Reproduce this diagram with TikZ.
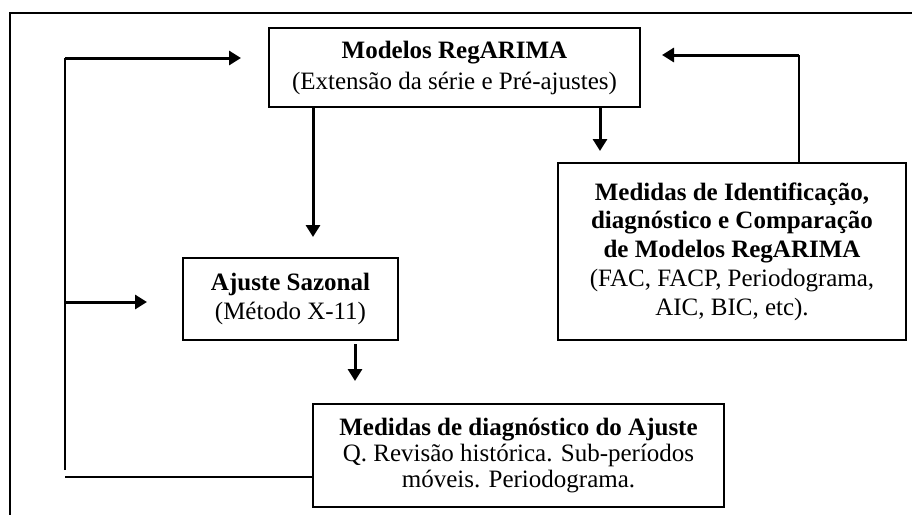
\documentclass[tikz,border=0pt]{standalone}
\usepackage{fontspec}
\setmainfont{Liberation Serif}
\usetikzlibrary{arrows.meta}
\begin{document}
\begin{tikzpicture}[x=0.5pt,y=-0.5pt,
  box/.style={draw, line width=1pt, align=center, inner sep=0pt},
  thickarr/.style={line width=1.5pt, -{Triangle[length=6pt,width=7pt]}},
  thinline/.style={line width=0.75pt},
  frame/.style={line width=1.3pt}
]
\useasboundingbox (0,0) rectangle (912,515);
% outer frame (partial)
\draw[frame] (10,515) -- (10,13) -- (912,13);
% boxes
\node[box, font=\fontsize{12.5pt}{15.5pt}\selectfont, minimum width=185.5pt, minimum height=39.5pt] (top) at (454.5,67.5)
  {\textbf{Modelos RegARIMA}\\(Extensão da série e Pré-ajustes)};
\node[box, font=\fontsize{12.5pt}{14.5pt}\selectfont, minimum width=107.5pt, minimum height=41pt] (ajuste) at (290.5,299)
  {\textbf{Ajuste Sazonal}\\(Método X-11)};
\node[box, font=\fontsize{12.5pt}{14.4pt}\selectfont, minimum width=174pt, minimum height=88.5pt] (ident) at (732,251.5)
  {\textbf{Medidas de Identificação,}\\\textbf{diagnóstico e Comparação}\\\textbf{de Modelos RegARIMA}\\(FAC, FACP, Periodograma,\\AIC, BIC, etc).};
\node[box, font=\fontsize{12.5pt}{12.8pt}\selectfont, minimum width=205.5pt, minimum height=51.5pt] (diag) at (518.5,455.5)
  {\textbf{Medidas de diagnóstico do Ajuste}\\Q. Revisão histórica. Sub-períodos\\móveis. Periodograma.};
% helper coordinates
\coordinate (xa) at (313,0);
\coordinate (xb) at (355,0);
\coordinate (xc) at (600,0);
\coordinate (xd) at (799,0);
\coordinate (yd) at (0,55);
\coordinate (L1) at (65,58);
\coordinate (L2) at (65,470);
\coordinate (yL) at (0,302);
\coordinate (yB) at (0,477);
% connectors
\draw[thickarr, shorten >=10pt] (top.south -| xa) -- (ajuste.north -| xa);
\draw[thickarr, shorten <=1.5pt, shorten >=11pt] (ajuste.south -| xb) -- (diag.north -| xb);
\draw[thickarr, shorten >=5.5pt] (top.south -| xc) -- (ident.north -| xc);
\draw[thinline] (ident.north -| xd) -- (xd |- yd) coordinate (cornerR);
\draw[thickarr, shorten >=10.5pt] (cornerR) -- (top.east |- yd);
\draw[thinline] (diag.west |- yB) -- (L1 |- yB);
\draw[thinline] (L2) -- (L1);
\draw[thickarr, shorten >=13.5pt] (L1) -- (top.west |- L1);
\draw[thickarr, shorten >=17.5pt] (L1 |- yL) -- (ajuste.west |- yL);
\end{tikzpicture}
\end{document}
